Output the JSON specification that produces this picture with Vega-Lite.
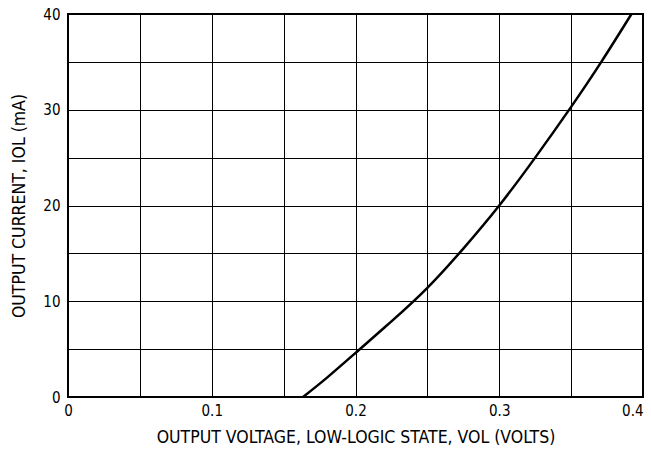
{
  "$schema": "https://vega.github.io/schema/vega-lite/v6.json",
  "autosize": "none",
  "width": 575,
  "height": 383,
  "padding": {"left": 68, "top": 14, "right": 8, "bottom": 53},
  "background": "white",
  "config": {
    "font": "DejaVu Sans Condensed",
    "view": {"stroke": "black", "strokeWidth": 2},
    "axis": {
      "grid": true,
      "gridColor": "black",
      "gridOpacity": 1,
      "gridWidth": 1,
      "domain": false,
      "ticks": false,
      "labelFont": "DejaVu Sans Condensed",
      "labelFontSize": 15,
      "labelColor": "black",
      "titleFont": "DejaVu Sans Condensed",
      "titleFontSize": 17.5,
      "titleFontWeight": "normal",
      "titleColor": "black"
    }
  },
  "data": {
    "values": [
      {"v": 0.1635, "i": 0},
      {"v": 0.18, "i": 2.0},
      {"v": 0.2, "i": 4.6},
      {"v": 0.225, "i": 7.9},
      {"v": 0.25, "i": 11.4},
      {"v": 0.275, "i": 15.5},
      {"v": 0.3, "i": 20.0},
      {"v": 0.325, "i": 25.0},
      {"v": 0.35, "i": 30.3},
      {"v": 0.371, "i": 35},
      {"v": 0.392, "i": 40}
    ]
  },
  "mark": {"type": "line", "color": "black", "strokeWidth": 2.5, "interpolate": "natural"},
  "encoding": {
    "x": {
      "field": "v",
      "type": "quantitative",
      "scale": {"domain": [0, 0.4], "nice": false},
      "axis": {
        "values": [0, 0.05, 0.1, 0.15, 0.2, 0.25, 0.3, 0.35, 0.4],
        "labelExpr": "datum.value == 0 ? '0' : (abs(datum.value*10 - round(datum.value*10)) < 0.001 ? format(datum.value, '.1f') : '')",
        "labelFlush": false,
        "labelAlign": {"condition": {"test": "datum.value >= 0.39", "value": "right"}, "value": "center"},
        "labelPadding": 6,
        "title": "OUTPUT VOLTAGE, LOW-LOGIC STATE, VOL (VOLTS)",
        "titlePadding": 10
      }
    },
    "y": {
      "field": "i",
      "type": "quantitative",
      "scale": {"domain": [0, 40], "nice": false},
      "axis": {
        "values": [0, 5, 10, 15, 20, 25, 30, 35, 40],
        "labelExpr": "datum.value % 10 == 0 ? datum.label : ''",
        "labelFlush": false,
        "labelPadding": 8,
        "title": "OUTPUT CURRENT, IOL (mA)",
        "titlePadding": 14
      }
    }
  }
}
